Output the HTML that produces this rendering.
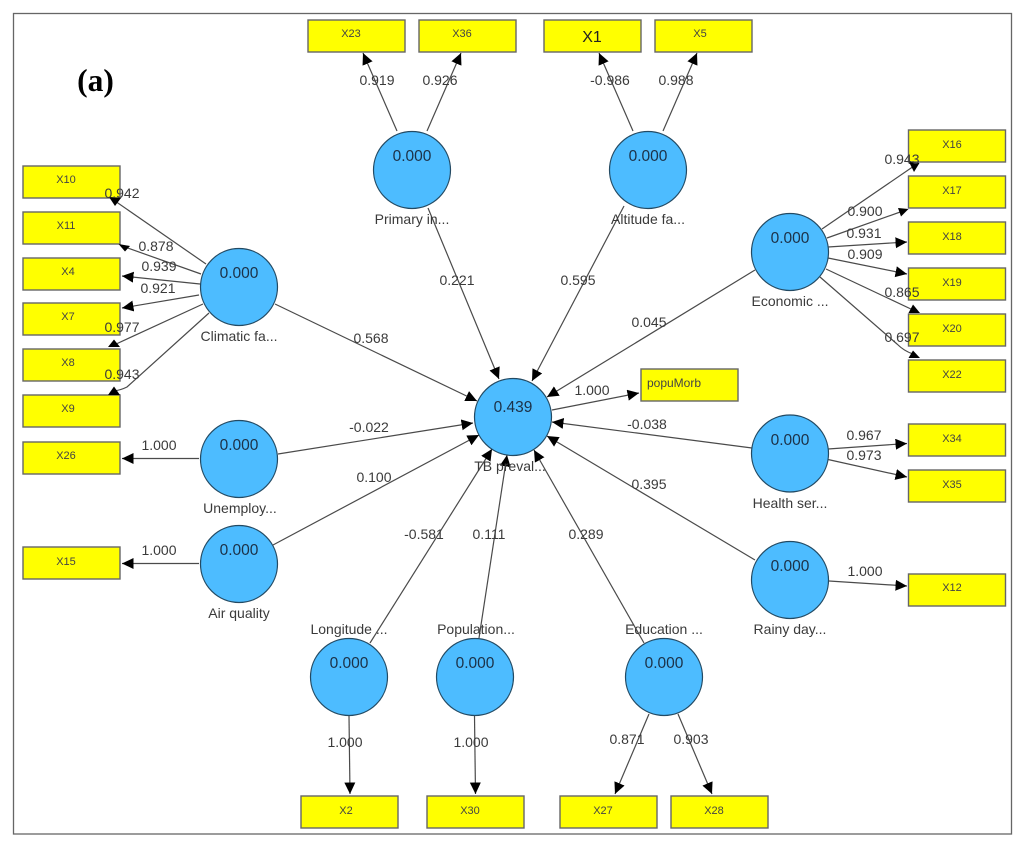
<!DOCTYPE html>
<html><head><meta charset="utf-8"><title>PLS path model (a)</title>
<style>
html,body{margin:0;padding:0;background:#fff;width:1024px;height:853px;overflow:hidden}
svg{display:block;filter:blur(.25px)}
.b rect{fill:#ffff00;stroke:#666;stroke-width:1.4}
.bt text{font:11px "Liberation Sans",sans-serif;fill:#444;text-anchor:middle}
.l line,.l path{stroke:#4a4a4a;stroke-width:1.2;fill:none}
.c circle{fill:#4dbcff;stroke:#234a63;stroke-width:1.2}
.v text{font:15.5px "Liberation Sans",sans-serif;fill:#1c3147;text-anchor:middle}
.t text{font:14px "Liberation Sans",sans-serif;fill:#3a3a3a;text-anchor:middle}
</style></head><body>
<svg width="1024" height="853" viewBox="0 0 1024 853" xmlns="http://www.w3.org/2000/svg">
<defs><marker id="a" markerUnits="userSpaceOnUse" markerWidth="13" markerHeight="13" refX="11.5" refY="5.5" orient="auto"><path d="M0,0L11.5,5.500L0,11Z" fill="#000"/></marker></defs>
<rect x="13.5" y="13.5" width="998" height="820.5" fill="#fff" stroke="#666" stroke-width="1.3"/>
<g class="b">
<rect x="23" y="166" width="97" height="32"/><rect x="23" y="212" width="97" height="32"/><rect x="23" y="258" width="97" height="32"/><rect x="23" y="303" width="97" height="32"/><rect x="23" y="349" width="97" height="32"/><rect x="23" y="395" width="97" height="32"/><rect x="23" y="442" width="97" height="32"/><rect x="23" y="547" width="97" height="32"/>
<rect x="308" y="20" width="97" height="32"/><rect x="419" y="20" width="97" height="32"/><rect x="544" y="20" width="97" height="32"/><rect x="655" y="20" width="97" height="32"/>
<rect x="908.500" y="130" width="97" height="32"/><rect x="908.500" y="176" width="97" height="32"/><rect x="908.500" y="222" width="97" height="32"/><rect x="908.500" y="268" width="97" height="32"/><rect x="908.500" y="314" width="97" height="32"/><rect x="908.500" y="360" width="97" height="32"/><rect x="908.500" y="424" width="97" height="32"/><rect x="908.500" y="470" width="97" height="32"/><rect x="908.500" y="574" width="97" height="32"/>
<rect x="641" y="369" width="97" height="32"/>
<rect x="301" y="796" width="97" height="32"/><rect x="427" y="796" width="97" height="32"/><rect x="560" y="796" width="97" height="32"/><rect x="671" y="796" width="97" height="32"/>
</g>
<g class="l">
<line x1="206" y1="264" x2="115" y2="201"/>
<line x1="201" y1="274" x2="122" y2="246"/>
<line x1="200" y1="284" x2="122" y2="276" marker-end="url(#a)"/>
<line x1="199" y1="295" x2="122" y2="308" marker-end="url(#a)"/>
<line x1="203" y1="304" x2="114" y2="345"/>
<path d="M209,313L127,387Q121,390 114,391"/>
<line x1="199" y1="458.500" x2="122" y2="458.500" marker-end="url(#a)"/>
<line x1="199" y1="563.500" x2="122" y2="563.500" marker-end="url(#a)"/>
<line x1="397" y1="131" x2="363" y2="53" marker-end="url(#a)"/>
<line x1="427" y1="131" x2="461" y2="53" marker-end="url(#a)"/>
<line x1="633" y1="131" x2="599" y2="53" marker-end="url(#a)"/>
<line x1="663" y1="131" x2="697" y2="53" marker-end="url(#a)"/>
<line x1="822" y1="229" x2="914" y2="166"/>
<line x1="827" y1="238" x2="903" y2="211"/>
<line x1="828" y1="247" x2="907" y2="242" marker-end="url(#a)"/>
<line x1="828" y1="258" x2="907" y2="274" marker-end="url(#a)"/>
<line x1="826" y1="269" x2="913" y2="310"/>
<path d="M820,277L897,344Q904,351 913,354"/>
<line x1="828" y1="449" x2="907" y2="443.500" marker-end="url(#a)"/>
<line x1="828" y1="459.500" x2="907" y2="477" marker-end="url(#a)"/>
<line x1="829" y1="581" x2="907" y2="586" marker-end="url(#a)"/>
<line x1="349" y1="716" x2="350" y2="794" marker-end="url(#a)"/>
<line x1="474.500" y1="716" x2="475.500" y2="794" marker-end="url(#a)"/>
<line x1="649" y1="714" x2="615" y2="794" marker-end="url(#a)"/>
<line x1="678" y1="714" x2="712" y2="794" marker-end="url(#a)"/>
<line x1="428" y1="208" x2="499" y2="379" marker-end="url(#a)"/>
<line x1="624" y1="206" x2="532" y2="381" marker-end="url(#a)"/>
<line x1="755" y1="270" x2="547" y2="397" marker-end="url(#a)"/>
<line x1="275" y1="304" x2="477" y2="401" marker-end="url(#a)"/>
<line x1="278" y1="454" x2="473" y2="423" marker-end="url(#a)"/>
<line x1="273" y1="545" x2="479" y2="435" marker-end="url(#a)"/>
<line x1="370" y1="643" x2="492" y2="449" marker-end="url(#a)"/>
<line x1="479" y1="638" x2="507" y2="455" marker-end="url(#a)"/>
<line x1="644" y1="643" x2="534" y2="450" marker-end="url(#a)"/>
<line x1="755" y1="560" x2="547" y2="436" marker-end="url(#a)"/>
<line x1="752" y1="448" x2="552" y2="422" marker-end="url(#a)"/>
<line x1="552" y1="410" x2="639" y2="393" marker-end="url(#a)"/>
</g>
<g fill="#000">
<polygon points="109,197 121,198 115,206"/>
<polygon points="118.500,244 130,246 125,251.500"/>
<polygon points="108,347 120,347 114,339.500"/>
<polygon points="108,395 120,395 114,386.500"/>
<polygon points="909,162 919.500,163 914,172"/>
<polygon points="898,208 908.500,209 901,216.500"/>
<polygon points="908.500,313 920,313 913,304.500"/>
<polygon points="908.500,358 920,358 913,350.500"/>
</g>
<g class="c">
<circle cx="239" cy="287" r="38.500"/><circle cx="239" cy="459" r="38.500"/><circle cx="239" cy="564" r="38.500"/>
<circle cx="412" cy="170" r="38.500"/><circle cx="648" cy="170" r="38.500"/>
<circle cx="790" cy="252" r="38.500"/><circle cx="790" cy="453.500" r="38.500"/><circle cx="790" cy="580" r="38.500"/>
<circle cx="513" cy="417" r="38.500"/>
<circle cx="349" cy="677" r="38.500"/><circle cx="475" cy="677" r="38.500"/><circle cx="664" cy="677" r="38.500"/>
</g>
<g class="v">
<text x="239" y="278">0.000</text><text x="239" y="450">0.000</text><text x="239" y="555">0.000</text>
<text x="412" y="161">0.000</text><text x="648" y="161">0.000</text>
<text x="790" y="243">0.000</text><text x="790" y="445">0.000</text><text x="790" y="571">0.000</text>
<text x="513" y="412">0.439</text>
<text x="349" y="668">0.000</text><text x="475" y="668">0.000</text><text x="664" y="668">0.000</text>
</g>
<g class="bt">
<text x="66" y="183">X10</text><text x="66" y="229">X11</text><text x="68" y="275">X4</text><text x="68" y="320">X7</text><text x="68" y="366">X8</text><text x="68" y="412">X9</text><text x="66" y="459">X26</text><text x="66" y="565">X15</text>
<text x="351" y="37">X23</text><text x="462" y="37">X36</text><text x="700" y="37">X5</text>
<text x="952" y="148">X16</text><text x="952" y="194">X17</text><text x="952" y="240">X18</text><text x="952" y="286">X19</text><text x="952" y="332">X20</text><text x="952" y="378">X22</text><text x="952" y="442">X34</text><text x="952" y="488">X35</text><text x="952" y="591">X12</text>
<text x="346" y="814">X2</text><text x="470" y="814">X30</text><text x="603" y="814">X27</text><text x="714" y="814">X28</text>
<text x="674" y="387" style="font-size:12px">popuMorb</text>
<text x="592" y="42" style="font-size:16px;fill:#222">X1</text>
</g>
<g class="t">
<text x="122" y="198">0.942</text><text x="156" y="251">0.878</text><text x="159" y="271">0.939</text><text x="158" y="293">0.921</text><text x="122" y="332">0.977</text><text x="122" y="379">0.943</text><text x="159" y="450">1.000</text><text x="159" y="555">1.000</text>
<text x="377" y="85">0.919</text><text x="440" y="85">0.926</text><text x="610" y="85">-0.986</text><text x="676" y="85">0.988</text>
<text x="902" y="164">0.943</text><text x="865" y="216">0.900</text><text x="864" y="238">0.931</text><text x="865" y="259">0.909</text><text x="902" y="297">0.865</text><text x="902" y="342">0.697</text>
<text x="864" y="440">0.967</text><text x="864" y="460">0.973</text><text x="865" y="576">1.000</text>
<text x="371" y="343">0.568</text><text x="457" y="285">0.221</text><text x="578" y="285">0.595</text><text x="649" y="327">0.045</text><text x="592" y="395">1.000</text><text x="647" y="429">-0.038</text><text x="649" y="489">0.395</text><text x="369" y="432">-0.022</text><text x="374" y="482">0.100</text><text x="424" y="539">-0.581</text><text x="489" y="539">0.111</text><text x="586" y="539">0.289</text>
<text x="345" y="747">1.000</text><text x="471" y="747">1.000</text><text x="627" y="744">0.871</text><text x="691" y="744">0.903</text>
<text x="412" y="224">Primary in...</text><text x="648" y="224">Altitude fa...</text><text x="790" y="306">Economic ...</text><text x="239" y="341">Climatic fa...</text><text x="240" y="513">Unemploy...</text><text x="239" y="618">Air quality</text><text x="510" y="471">TB preval...</text><text x="790" y="508">Health ser...</text><text x="790" y="634">Rainy day...</text><text x="349" y="634">Longitude ...</text><text x="476" y="634">Population...</text><text x="664" y="634">Education ...</text>
</g>
<text x="95.500" y="91" text-anchor="middle" style="font:bold 31.5px 'Liberation Serif',serif;fill:#000">(a)</text>
</svg>
</body></html>
